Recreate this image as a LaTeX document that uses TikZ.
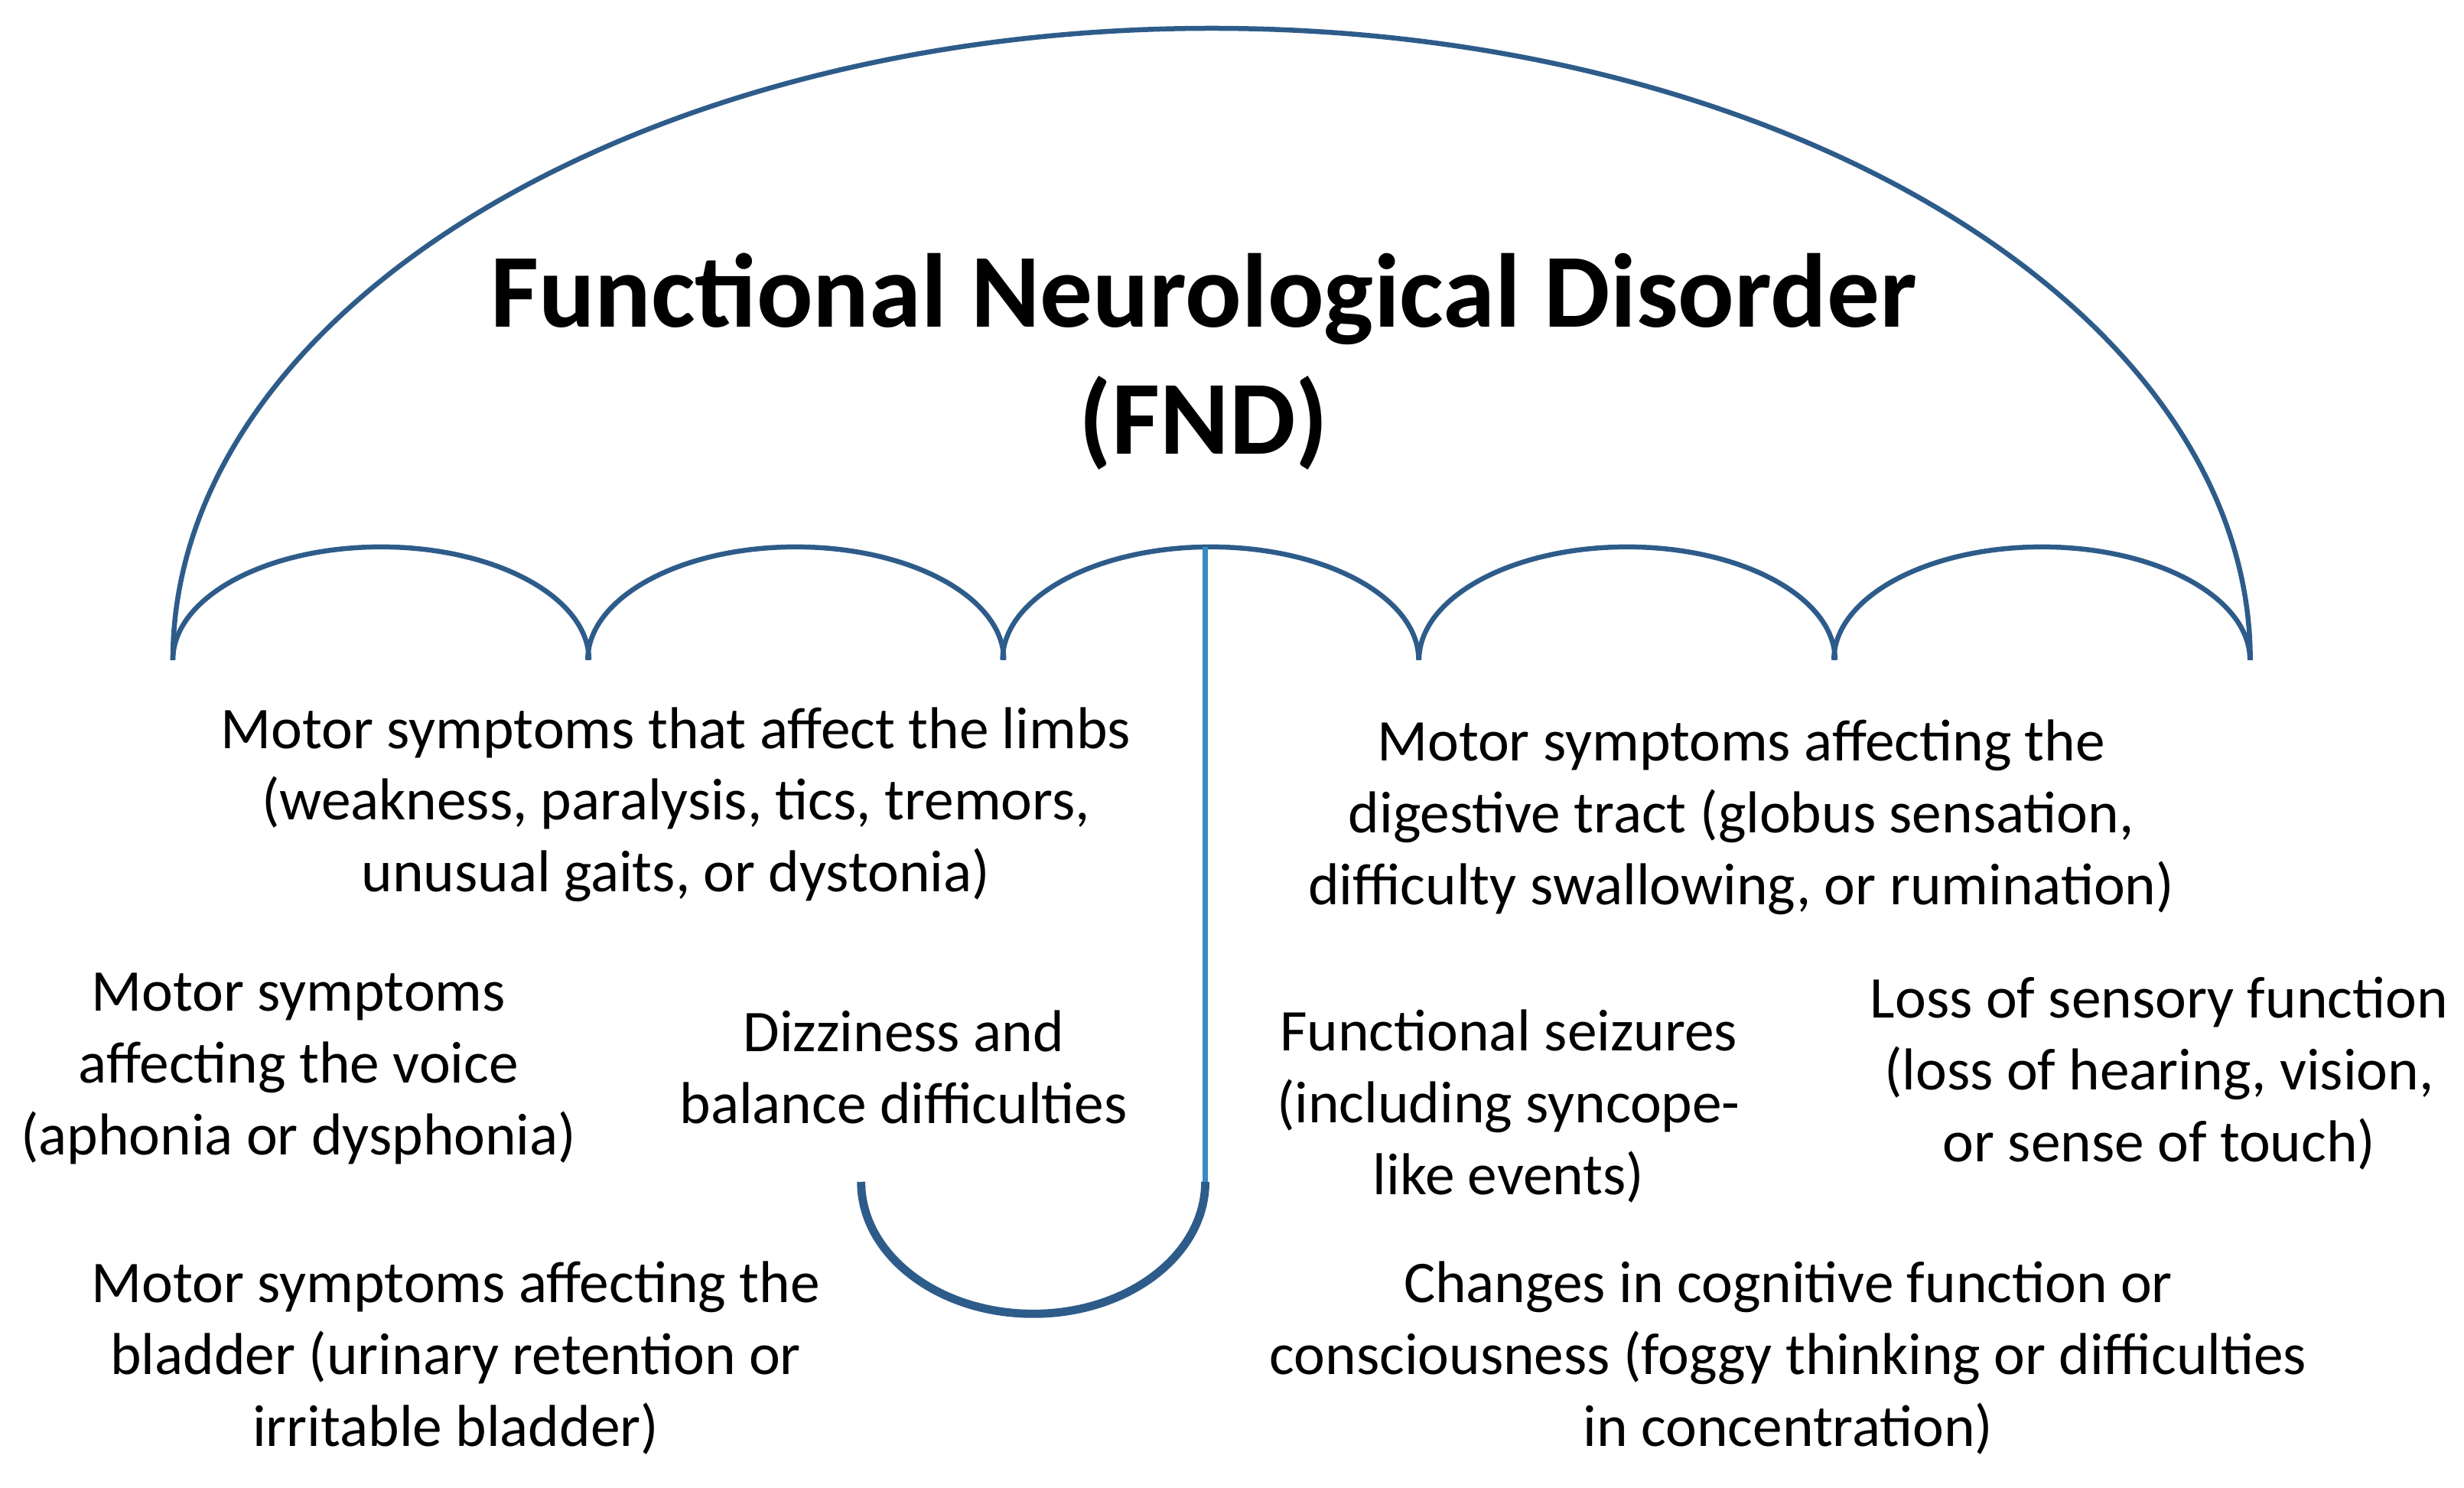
\documentclass[tikz,border=0pt]{standalone}
\usepackage{fontspec}
\setmainfont{Carlito}
\definecolor{canopy}{RGB}{46,92,138}
\definecolor{shaft}{RGB}{52,140,196}
\tikzset{
    symptom/.style={align=center, font=\fontsize{10.7}{13}\selectfont, inner sep=0pt},
    rim/.style={canopy, line width=0.9pt}
}
\begin{document}
\begin{tikzpicture}[x=0.01cm,y=-0.01cm]
\useasboundingbox (0,0) rectangle (1568,946.8);
% canopy
\draw[rim] (110,420) arc[start angle=180, end angle=360, x radius=661, y radius=402];
\foreach \s in {110,374,638,903,1167}
    \draw[rim] (\s,420) arc[start angle=180, end angle=360, x radius=132.4, y radius=72];
% shaft and handle
\coordinate (top) at (767,348);
\coordinate (hook) at (767,752);
\draw[shaft, line width=1pt] (top) -- (hook);
\draw[canopy, line width=1.5pt] (hook) arc[start angle=0, end angle=180, x radius=109.5, y radius=84];
\node[align=center, font=\fontsize{19}{23}\selectfont\bfseries] (title) at (766,230)
    {Functional Neurological Disorder\\(FND)};
\node[symptom] (limbs) at (430,512) {Motor symptoms that affect the limbs\\(weakness, paralysis, tics, tremors,\\unusual gaits, or dystonia)};
\node[symptom] (digest) at (1108,520) {Motor symptoms affecting the\\digestive tract (globus sensation,\\difficulty swallowing, or rumination)};
\node[symptom] (voice) at (190,680) {Motor symptoms\\affecting the voice\\(aphonia or dysphonia)};
\node[symptom] (dizzy) at (575,679) {Dizziness and\\balance difficulties};
\node[symptom] (seizure) at (960,704) {Functional seizures\\(including syncope-\\like events)};
\node[symptom] (sense) at (1374,683) {Loss of sensory function\\(loss of hearing, vision,\\or sense of touch)};
\node[symptom] (bladder) at (290,864) {Motor symptoms affecting the\\bladder (urinary retention or\\irritable bladder)};
\node[symptom] (cognit) at (1138,864) {Changes in cognitive function or\\consciousness (foggy thinking or difficulties\\in concentration)};
\end{tikzpicture}
\end{document}
